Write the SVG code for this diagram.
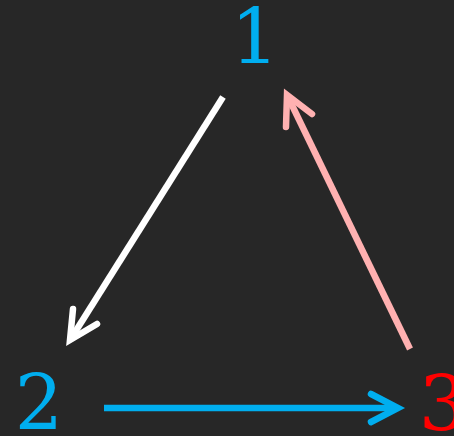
<svg xmlns="http://www.w3.org/2000/svg" width="454" height="436" viewBox="0 0 454 436">
<style>
.lbl{font-family:"DejaVu Serif","Liberation Serif",serif;font-size:76px;text-anchor:middle}
.ln{fill:none;stroke-width:6.5}
.hd{fill:none;stroke-width:6.5;stroke-linejoin:miter;stroke-linecap:round}
</style>
<rect width="454" height="436" fill="#272727"/>
<g id="connectors">
<g id="e12" stroke="#ffffff">
<line class="ln" x1="223" y1="97" x2="72" y2="337"/>
<path class="hd" d="M97,324 L70,340 L73,309"/>
</g>
<g id="e23" stroke="#00aeef">
<line class="ln" x1="104" y1="408" x2="395" y2="408"/>
<path class="hd" d="M371,394 L398,408 L371,422"/>
</g>
<g id="e31" stroke="#ffb1b1">
<line class="ln" x1="410" y1="349" x2="289" y2="99"/>
<path class="hd" d="M286,127 L287,95 L312,114"/>
</g>
</g>
<g id="n1"><text class="lbl" x="255" y="63" fill="#00aeef">1</text></g>
<g id="n2"><text class="lbl" x="39" y="429" fill="#00aeef">2</text></g>
<g id="n3"><text class="lbl" x="443" y="430" fill="#ff0000">3</text></g>
</svg>
